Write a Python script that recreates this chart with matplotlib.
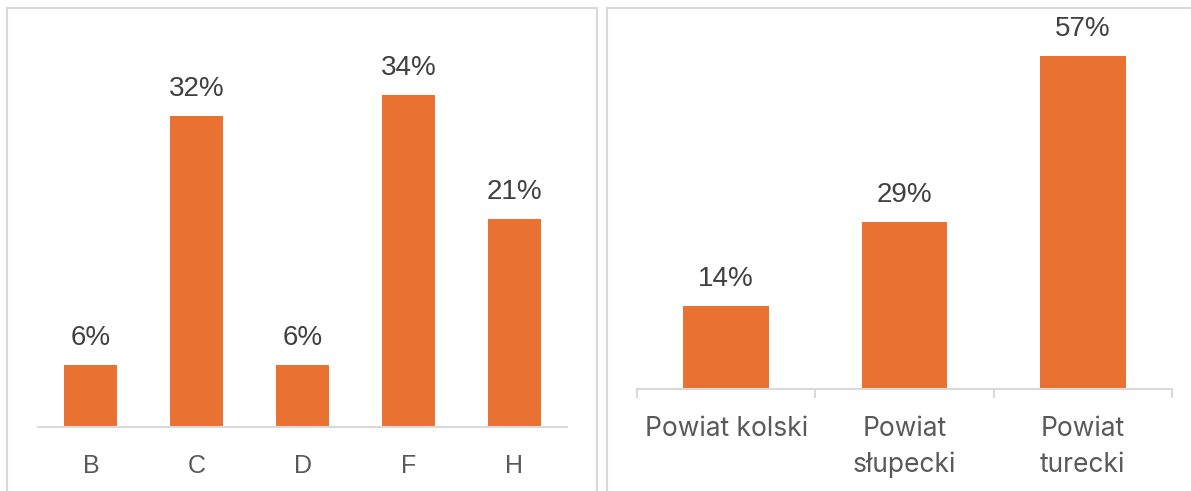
import matplotlib.pyplot as plt
from matplotlib.patches import Rectangle

# data (shares in %)
left_cats = ['B', 'C', 'D', 'F', 'H']
left_vals = [6.38, 31.91, 6.38, 34.04, 21.28]
left_labels = ['6%', '32%', '6%', '34%', '21%']

right_cats = ['Powiat kolski', 'Powiat\nsłupecki', 'Powiat\nturecki']
right_vals = [14.29, 28.57, 57.14]
right_labels = ['14%', '29%', '57%']

W, H = 1191, 491
BAR = '#E97132'
GRID = '#D9D9D9'
px = 72.0 / 100  # points per pixel at dpi 100

fig = plt.figure(figsize=(W / 100, H / 100), dpi=100)

# panel frames
for x0, x1 in [(7, 597), (607, 1200)]:
    fig.patches.append(Rectangle((x0 / W, -0.05), (x1 - x0) / W, (H - 8) / H + 0.05,
                                 transform=fig.transFigure, fill=False,
                                 edgecolor=GRID, linewidth=1.5))


def panel(rect, cats, vals, labels, ymax, width, cat_font, label_off, ticks):
    ax = fig.add_axes(rect)
    x = range(len(cats))
    ax.bar(x, vals, width=width, color=BAR)
    ax.set_xlim(-0.5, len(cats) - 0.5)
    ax.set_ylim(0, ymax)
    for s in ['top', 'right', 'left']:
        ax.spines[s].set_visible(False)
    ax.spines['bottom'].set_color(GRID)
    ax.spines['bottom'].set_linewidth(1.5)
    ax.set_yticks([])
    if ticks:
        ax.set_xticks([i - 0.5 for i in range(len(cats) + 1)])
        ax.tick_params(axis='x', direction='out', length=9 * px, width=1.5,
                       color=GRID, labelbottom=False)
    else:
        ax.set_xticks([])
    for i, (v, lab) in enumerate(zip(vals, labels)):
        ax.annotate(lab, (i, v), xytext=(0, 20 * px), textcoords='offset points',
                    ha='center', va='baseline', fontsize=20,
                    family='Liberation Sans', color='#404040')
    # category names, one line at a time so baselines stay put
    for i, c in enumerate(cats):
        for k, line in enumerate(c.split('\n')):
            ax.annotate(line, (i, 0), xycoords=('data', 'axes fraction'),
                        xytext=(0, -(label_off + 36 * k) * px),
                        textcoords='offset points',
                        ha='center', va='baseline', fontsize=cat_font[1],
                        family=cat_font[0], color='#595959',
                        annotation_clip=False)
    return ax


panel([38 / W, 64 / H, 529 / W, 390.4 / H], left_cats, left_vals, left_labels,
      40, 0.5, ('Liberation Sans', 18), 46, False)
panel([637 / W, 102 / H, 535 / W, 349.8 / H], right_cats, right_vals, right_labels,
      60, 0.48, ('Inter', 19), 47, True)

fig.savefig('out.png', dpi=100)
